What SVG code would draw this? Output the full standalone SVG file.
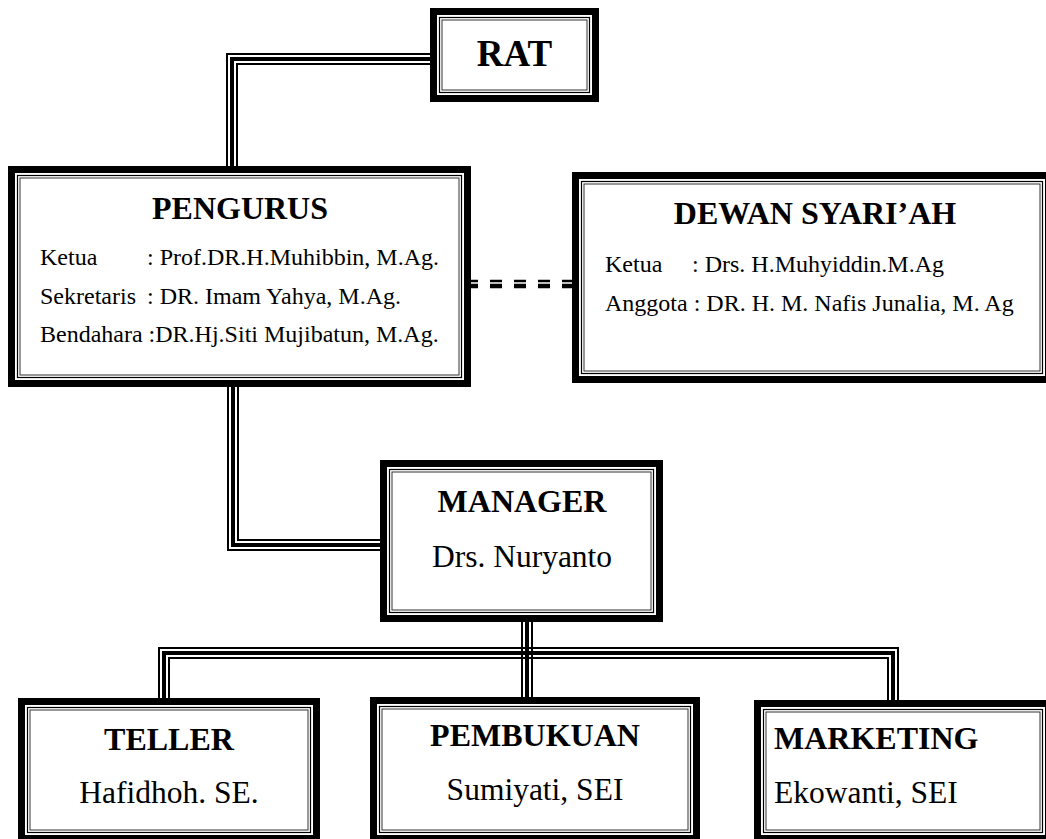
<svg xmlns="http://www.w3.org/2000/svg" width="1046" height="839" viewBox="0 0 1046 839">
<style>
.b1{fill:#fff;stroke:#000;stroke-width:7}
.b2{fill:none;stroke:#000;stroke-width:1.2}
.b3{fill:none;stroke:#333;stroke-width:1}
.tn{fill:none;stroke:#000;stroke-width:2}
.tk{fill:none;stroke:#000;stroke-width:4}
.d1{fill:none;stroke:#000;stroke-width:2.5;stroke-dasharray:12 12}
.d2{fill:none;stroke:#000;stroke-width:4.3;stroke-dasharray:12 12}
text{font-family:"Liberation Serif","Times New Roman",serif;fill:#000}
.h{font-weight:bold;font-size:32px;text-anchor:middle}
.n{font-size:31.5px;text-anchor:middle}
.s{font-size:24px}
</style>
<g id="connectors">
<path class="tn" d="M430,54 H227 V166"/>
<path class="tk" d="M430,59 H232 V166"/>
<path class="tn" d="M430,64 H237 V166"/>
<path class="tn" d="M228,387 V550 H380"/>
<path class="tk" d="M233,387 V545 H380"/>
<path class="tn" d="M238,387 V540 H380"/>
<path class="d1" d="M466,281 H572"/>
<path class="d2" d="M466,286 H572"/>
<path class="tn" d="M159,698 V648 H898 V700"/>
<path class="tk" d="M164,698 V653 H893 V700"/>
<path class="tn" d="M169,698 V658 H888 V700"/>
<path class="tn" d="M522,622 V697"/>
<path class="tk" d="M527,622 V697"/>
<path class="tn" d="M532,622 V697"/>
</g>
<g id="rat">
<rect class="b1" x="433.5" y="11.5" width="162" height="87"/>
<rect class="b2" x="439.5" y="17.5" width="150" height="75"/>
<rect class="b3" x="442" y="20" width="145" height="70"/>
<text x="514.5" y="66" style="font-weight:bold;font-size:37px;text-anchor:middle">RAT</text>
</g>
<g id="pengurus">
<rect class="b1" x="11.5" y="169.5" width="456" height="214"/>
<rect class="b2" x="17.5" y="175.5" width="444" height="202"/>
<rect class="b3" x="20" y="178" width="439" height="197"/>
<text class="h" x="240" y="219">PENGURUS</text>
<text class="s" x="40" y="265">Ketua</text>
<text class="s" x="147" y="265">: Prof.DR.H.Muhibbin, M.Ag.</text>
<text class="s" x="40" y="304">Sekretaris</text>
<text class="s" x="147" y="304">: DR. Imam Yahya, M.Ag.</text>
<text class="s" x="40" y="342">Bendahara :DR.Hj.Siti Mujibatun, M.Ag.</text>
</g>
<g id="dewan">
<rect class="b1" x="575.5" y="175.5" width="473" height="204"/>
<rect class="b2" x="581.5" y="181.5" width="461" height="192"/>
<rect class="b3" x="584" y="184" width="456" height="187"/>
<text class="h" x="815" y="224">DEWAN SYARI’AH</text>
<text class="s" x="605" y="272">Ketua</text>
<text class="s" x="692" y="272">: Drs. H.Muhyiddin.M.Ag</text>
<text class="s" x="605" y="311">Anggota : DR. H. M. Nafis Junalia, M. Ag</text>
</g>
<g id="manager">
<rect class="b1" x="383.5" y="463.5" width="276" height="155"/>
<rect class="b2" x="389.5" y="469.5" width="264" height="143"/>
<rect class="b3" x="392" y="472" width="259" height="138"/>
<text class="h" x="522" y="512">MANAGER</text>
<text class="n" x="522" y="567">Drs. Nuryanto</text>
</g>
<g id="teller">
<rect class="b1" x="21.5" y="701.5" width="295" height="137"/>
<rect class="b2" x="27.5" y="707.5" width="283" height="125"/>
<rect class="b3" x="30" y="710" width="278" height="120"/>
<text class="h" x="169" y="750">TELLER</text>
<text class="n" x="169" y="803">Hafidhoh. SE.</text>
</g>
<g id="pembukuan">
<rect class="b1" x="373.5" y="700.5" width="323" height="138"/>
<rect class="b2" x="379.5" y="706.5" width="311" height="126"/>
<rect class="b3" x="382" y="709" width="306" height="121"/>
<text class="h" x="535" y="746">PEMBUKUAN</text>
<text class="n" x="535" y="800">Sumiyati, SEI</text>
</g>
<g id="marketing">
<rect class="b1" x="757.5" y="703.5" width="291" height="135"/>
<rect class="b2" x="763.5" y="709.5" width="279" height="123"/>
<rect class="b3" x="766" y="712" width="274" height="118"/>
<text x="774" y="749" style="font-weight:bold;font-size:32px">MARKETING</text>
<text x="774" y="803" style="font-size:31.5px">Ekowanti, SEI</text>
</g>
</svg>
